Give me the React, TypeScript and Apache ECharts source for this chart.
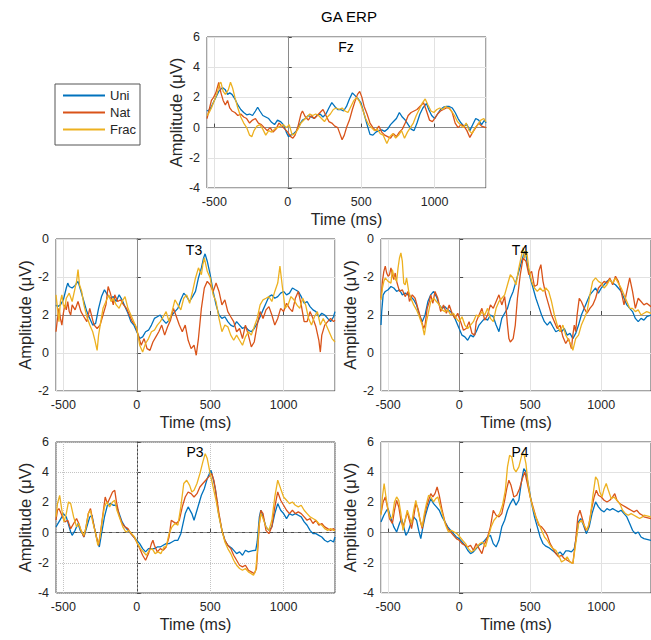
import React, { useEffect, useRef } from "react";
import * as echarts from "echarts";

type Pt = [number, number];

// ---- data -------------------------------------------------------------
const SERIES_NAMES = ["Uni", "Nat", "Frac"];
const SERIES_COLORS = ["#0072BD", "#D95319", "#EDB120"];
const CHANNELS = ["Fz", "T3", "T4", "P3", "P4"];
const TIME_RANGE: [number, number] = [-550, 1350];
const AMP_RANGE: [number, number] = [-4, 6];
const TEMPORAL_RANGE: [number, number] = [-4, 4];
// tick labels printed on the temporal panels, for ticks -4, -2, 0, 2, 4
const TEMPORAL_TICK_LABELS = ["-2", "0", "2", "-2", "0"];

// Fz (µV, time in ms)
const FZ_UNI: Pt[] = [[-550,1.1],[-530,1.2],[-510,1.6],[-490,2.0],[-470,2.4],[-445,2.65],[-425,2.5],[-410,2.2],[-395,2.3],[-380,2.2],[-360,1.9],[-340,1.5],[-320,1.2],[-300,1.0],[-280,0.85],[-260,0.9],[-240,0.8],[-220,1.1],[-205,1.35],[-190,1.1],[-170,0.8],[-150,0.7],[-130,0.6],[-110,0.35],[-90,0.2],[-70,0.5],[-50,0.4],[-30,0.2],[-10,-0.3],[5,-0.6],[20,-0.5],[40,-0.4],[60,-0.2],[80,0.2],[100,0.5],[120,0.6],[140,0.8],[160,0.7],[180,0.6],[200,0.8],[220,0.9],[240,0.7],[260,0.9],[280,1.3],[300,1.65],[320,1.4],[340,1.2],[360,1.2],[380,1.1],[400,1.4],[420,1.9],[440,2.3],[460,2.1],[480,1.9],[500,1.6],[520,0.9],[540,0.2],[560,-0.45],[580,-0.5],[600,-0.3],[620,-0.2],[640,-0.15],[660,-0.25],[680,-0.1],[700,0.2],[720,0.4],[740,0.6],[760,1.0],[780,0.7],[800,0.5],[820,0.2],[840,-0.1],[860,-0.2],[880,0.3],[900,0.9],[920,1.3],[945,1.6],[960,1.2],[980,0.8],[1000,0.6],[1020,0.9],[1040,1.2],[1060,1.35],[1080,1.4],[1100,1.4],[1120,1.3],[1140,1.0],[1160,0.6],[1180,0.3],[1200,0.1],[1220,0.2],[1240,-0.2],[1260,0.2],[1280,0.6],[1300,0.5],[1320,0.2],[1340,0.5],[1350,0.3]];
const FZ_NAT: Pt[] = [[-550,0.6],[-535,1.2],[-520,1.8],[-505,2.0],[-490,2.3],[-470,3.0],[-455,2.3],[-440,1.8],[-425,1.5],[-410,1.8],[-395,1.3],[-380,1.1],[-360,1.0],[-340,0.8],[-320,0.9],[-300,0.7],[-280,0.6],[-260,0.3],[-240,0.5],[-220,0.6],[-200,0.3],[-180,0.2],[-160,0.0],[-140,-0.2],[-120,0.0],[-100,-0.3],[-80,-0.1],[-60,0.3],[-40,0.1],[-20,-0.1],[0,-0.3],[20,-0.6],[35,-0.7],[50,-0.5],[70,0.1],[90,0.9],[100,1.1],[120,0.7],[140,0.5],[160,0.8],[180,0.6],[200,0.8],[220,1.0],[240,1.2],[260,0.8],[280,0.4],[300,0.3],[320,0.1],[340,0.0],[355,-0.4],[370,-0.8],[385,-0.5],[400,0.0],[420,0.5],[440,1.2],[460,1.8],[475,2.2],[490,2.4],[505,2.0],[520,1.4],[540,0.9],[560,0.3],[580,0.0],[600,-0.2],[620,0.1],[640,-0.3],[660,-0.5],[680,-0.6],[700,-0.7],[720,-0.4],[740,-0.6],[760,-0.3],[780,-0.1],[800,0.3],[820,0.8],[840,1.0],[860,1.1],[880,1.2],[900,1.4],[925,1.65],[945,1.1],[965,0.5],[985,0.4],[1000,0.6],[1020,0.9],[1040,1.1],[1060,1.2],[1080,1.3],[1100,1.3],[1120,1.0],[1140,0.3],[1160,0.0],[1180,0.2],[1200,0.1],[1220,-0.2],[1240,-0.65],[1260,-0.3],[1280,0.0],[1300,0.3],[1320,0.1],[1350,0.0]];
const FZ_FRAC: Pt[] = [[-550,0.8],[-535,1.0],[-520,1.3],[-500,1.8],[-480,2.3],[-465,2.9],[-455,3.0],[-440,2.4],[-425,2.2],[-405,2.5],[-390,3.0],[-375,2.6],[-360,2.0],[-340,1.3],[-320,0.7],[-300,0.3],[-280,0.0],[-260,-0.5],[-245,-0.6],[-230,-0.2],[-210,0.1],[-190,0.2],[-170,-0.1],[-150,-0.5],[-130,-0.2],[-110,-0.3],[-90,-0.1],[-70,0.0],[-50,0.1],[-30,0.2],[-10,0.0],[10,0.2],[30,-0.5],[50,-0.4],[70,-0.1],[90,0.3],[110,0.5],[130,0.7],[150,0.9],[170,0.8],[190,0.9],[210,0.8],[230,0.6],[250,0.4],[270,0.7],[290,0.9],[310,1.2],[330,1.3],[350,1.2],[370,1.3],[390,1.1],[410,1.0],[430,1.4],[450,1.8],[470,2.0],[490,1.7],[510,1.2],[530,0.6],[550,0.2],[570,0.0],[590,-0.2],[610,-0.1],[630,-0.4],[650,-0.5],[675,-1.05],[695,-0.6],[715,-0.4],[735,-0.7],[755,-0.5],[775,-0.2],[795,-0.7],[815,-0.3],[835,0.0],[855,0.3],[875,0.8],[895,1.2],[915,1.6],[936,1.9],[955,1.5],[975,1.1],[995,1.0],[1015,1.2],[1035,1.3],[1055,1.2],[1075,1.4],[1095,1.3],[1115,1.1],[1135,0.8],[1155,0.4],[1175,0.2],[1195,0.0],[1215,0.3],[1235,-0.2],[1255,-0.4],[1275,0.0],[1295,0.2],[1315,0.5],[1335,0.6],[1350,0.4]];

// T3 (temporal scale, ticks relabelled)
const T3_UNI: Pt[] = [[-550,0.53],[-540,0.44],[-520,0.53],[-500,0.8],[-480,1.42],[-470,1.68],[-460,1.5],[-440,1.42],[-420,1.56],[-400,1.77],[-380,1.24],[-360,0.71],[-340,0.18],[-320,-0.18],[-300,-0.53],[-280,-0.44],[-260,0.35],[-240,0.97],[-220,1.33],[-200,1.06],[-180,0.88],[-160,0.97],[-140,0.71],[-120,1.06],[-100,0.8],[-80,0.44],[-60,0.09],[-40,-0.35],[-20,-0.53],[0,-0.88],[20,-1.24],[40,-1.15],[60,-0.88],[80,-0.8],[100,-0.53],[120,-0.18],[140,-0.09],[160,0],[180,-0.27],[200,-0.44],[220,-0.27],[240,0],[260,0.18],[280,0.35],[300,0.8],[320,1.15],[340,0.97],[360,0.71],[380,0.97],[400,1.24],[420,1.95],[440,2.48],[455,3.0],[465,3.22],[480,2.83],[500,2.12],[520,1.24],[540,0.53],[560,0],[580,-0.18],[600,-0.09],[620,-0.35],[640,-0.53],[660,-0.62],[680,-0.35],[700,-0.53],[720,-0.71],[740,-0.62],[760,-0.8],[780,-0.88],[800,-0.71],[820,-0.44],[840,-0.09],[860,0.27],[880,0.62],[900,0.97],[920,1.06],[940,0.88],[960,0.97],[980,1.15],[1000,1.24],[1020,1.06],[1040,1.15],[1060,1.42],[1080,1.33],[1100,1.24],[1120,0.97],[1140,0.62],[1160,0.71],[1180,0.44],[1200,0.27],[1220,0.18],[1240,-0.09],[1260,0.09],[1280,0],[1300,-0.18],[1320,-0.35],[1340,-0.09],[1350,0.18]];
const T3_NAT: Pt[] = [[-550,-0.88],[-540,-0.18],[-530,0.35],[-520,-0.18],[-510,-0.53],[-500,0.09],[-490,0.53],[-480,0.27],[-470,0.71],[-460,0.18],[-450,0],[-440,0.53],[-420,0.27],[-400,0.71],[-380,0.18],[-360,-0.09],[-340,-0.35],[-320,0.35],[-300,-0.27],[-290,-0.53],[-270,-0.71],[-250,-0.53],[-230,0],[-210,0.53],[-195,1.5],[-180,1.15],[-160,0.53],[-150,1.06],[-130,0.71],[-110,0.8],[-90,0.53],[-70,0.35],[-50,0],[-30,-0.35],[-10,-0.53],[10,-1.06],[30,-1.59],[50,-1.24],[70,-1.77],[90,-1.86],[110,-1.42],[130,-1.15],[150,-0.88],[170,-0.53],[190,-1.06],[210,-0.62],[230,-0.27],[250,0.35],[270,-0.09],[290,-0.53],[310,-0.88],[330,-0.53],[350,-1.33],[370,-1.77],[390,-1.59],[405,-2.12],[420,-1.24],[440,0.35],[460,1.42],[480,1.77],[500,1.59],[520,1.24],[540,1.68],[560,1.24],[580,0.53],[600,0.8],[620,0.18],[640,-0.09],[660,-0.35],[680,-0.88],[700,-0.71],[720,-1.24],[740,-0.53],[760,-1.06],[780,-1.68],[800,-1.42],[820,-0.53],[840,0.18],[860,-0.18],[880,0.27],[900,0.44],[920,0],[940,-0.53],[960,-0.18],[980,0.35],[1000,0.18],[1020,0.62],[1040,0.35],[1060,0.18],[1080,0.88],[1100,1.24],[1120,0.53],[1140,-0.35],[1160,-0.35],[1180,0.18],[1200,-0.18],[1220,-0.62],[1240,-1.33],[1250,-1.95],[1260,-1.06],[1280,-0.53],[1300,-0.35],[1320,-0.18],[1340,-0.35],[1350,-0.27]];
const T3_FRAC: Pt[] = [[-550,1.06],[-540,0.35],[-530,-0.35],[-520,0.71],[-510,1.06],[-500,0.53],[-490,0.35],[-480,0.88],[-460,1.15],[-440,0.71],[-420,1.42],[-410,1.77],[-400,2.39],[-390,1.59],[-375,1.24],[-360,0.53],[-340,-0.09],[-320,-0.53],[-300,-0.88],[-285,-1.33],[-270,-1.86],[-260,-1.06],[-245,-0.35],[-230,0.35],[-210,0.71],[-190,1.06],[-175,0.71],[-160,0.88],[-140,0.53],[-120,0.35],[-100,0.71],[-80,0.97],[-60,0.35],[-40,0],[-20,-0.35],[0,-0.71],[20,-1.59],[40,-1.95],[60,-1.5],[80,-1.24],[100,-0.88],[120,-0.8],[140,-0.53],[160,-0.35],[180,-0.09],[200,0.18],[220,-0.35],[240,0.18],[260,0.8],[280,0.53],[300,0.27],[320,0.88],[340,1.06],[360,0.62],[380,1.24],[400,1.95],[420,2.48],[440,2.12],[450,2.65],[460,3.0],[470,2.65],[480,2.3],[500,1.95],[520,1.06],[540,0.71],[560,-0.18],[580,-0.88],[600,-0.53],[620,-0.62],[640,-1.06],[660,-1.33],[680,-1.06],[700,-1.33],[720,-1.59],[740,-1.15],[760,-0.88],[780,-1.06],[800,-0.62],[820,-0.18],[840,0.53],[860,0.8],[880,0.88],[900,0.97],[920,0.71],[940,1.24],[960,1.68],[975,2.57],[990,1.59],[1010,0.35],[1030,0.53],[1050,0.97],[1070,0.8],[1090,0.53],[1110,0.35],[1130,0.88],[1150,0.53],[1170,-0.18],[1190,-0.53],[1210,-0.09],[1230,0.18],[1250,-0.53],[1270,-0.18],[1290,-0.53],[1310,-0.88],[1330,-1.24],[1350,-1.42]];

// T4 (temporal scale, ticks relabelled)
const T4_UNI: Pt[] = [[-550,-0.53],[-545,0.18],[-535,1.06],[-520,1.24],[-500,1.33],[-480,1.5],[-460,1.42],[-440,1.24],[-420,1.33],[-400,1.06],[-380,1.15],[-360,1.06],[-340,0.97],[-320,0.8],[-300,0.53],[-280,0],[-260,-0.35],[-240,0],[-220,0.71],[-200,1.06],[-180,1.24],[-160,0.97],[-140,0.53],[-120,0.35],[-100,0.44],[-80,0.27],[-60,0.18],[-40,0],[-20,-0.35],[0,-0.71],[20,-1.06],[40,-1.15],[60,-1.33],[80,-1.06],[100,-1.15],[120,-0.88],[140,-0.53],[160,-0.35],[180,-0.18],[200,-0.27],[220,0],[240,-0.09],[260,-0.53],[280,-0.88],[300,-0.18],[320,0.09],[340,0.35],[360,0.88],[380,1.24],[400,1.77],[420,2.3],[440,2.83],[460,3.36],[470,3.19],[480,2.65],[500,1.95],[520,1.42],[540,0.88],[560,0.44],[580,0],[600,-0.35],[620,-0.53],[640,-0.35],[660,-0.62],[680,-0.88],[700,-0.8],[720,-0.88],[740,-0.71],[760,-1.06],[780,-0.97],[800,-1.24],[820,-0.97],[840,-0.53],[860,0],[880,0.35],[900,0.71],[920,1.06],[940,1.24],[960,1.42],[980,1.15],[1000,1.42],[1020,1.59],[1040,1.77],[1060,1.86],[1080,1.68],[1100,1.59],[1120,1.42],[1140,1.24],[1160,0.88],[1180,0.53],[1200,0.35],[1220,0.18],[1240,-0.18],[1260,-0.35],[1280,-0.18],[1300,-0.27],[1320,-0.09],[1350,0]];
const T4_NAT: Pt[] = [[-550,0.88],[-540,1.77],[-530,2.3],[-520,2.57],[-510,2.21],[-500,2.04],[-490,2.12],[-480,2.48],[-470,2.12],[-460,1.86],[-450,2.21],[-440,1.77],[-420,1.24],[-400,1.33],[-380,0.97],[-360,1.24],[-350,0.71],[-330,1.06],[-310,0.88],[-290,0.35],[-270,-0.18],[-250,-0.71],[-240,-0.53],[-225,0.35],[-210,0.71],[-200,1.06],[-185,0.62],[-170,1.24],[-150,0.88],[-130,0.18],[-110,0.53],[-90,0.09],[-70,0.53],[-50,0.09],[-30,-0.18],[-10,0.09],[10,-0.35],[30,-0.8],[50,-0.71],[70,-0.35],[90,-0.97],[110,-1.06],[120,-0.35],[140,0],[160,0.35],[180,-0.27],[200,0],[220,0.53],[240,0.35],[260,0.71],[280,1.06],[300,0.53],[320,0.97],[330,0.35],[340,-0.53],[350,-1.24],[360,-1.42],[380,-1.24],[395,-0.53],[410,0.88],[430,2.12],[450,3.0],[470,2.83],[490,2.12],[510,2.3],[530,1.5],[550,1.59],[560,2.3],[575,2.65],[590,1.77],[610,1.06],[630,0.53],[650,0],[670,-0.35],[690,-0.71],[710,-0.53],[730,-1.15],[750,-1.5],[770,-1.24],[790,-1.77],[800,-1.06],[810,-0.53],[820,-0.88],[830,0],[845,0.88],[860,0.71],[880,0.35],[900,0.09],[920,0.35],[940,0.53],[960,0.88],[980,1.42],[1000,1.59],[1020,1.77],[1040,1.68],[1060,1.95],[1080,1.59],[1100,2.04],[1120,1.77],[1140,1.24],[1160,0.53],[1180,1.24],[1200,1.95],[1220,1.24],[1240,0.35],[1260,0.88],[1280,0.71],[1300,0.53],[1320,0.62],[1350,0.44]];
const T4_FRAC: Pt[] = [[-550,0.8],[-540,1.42],[-530,1.77],[-520,1.95],[-500,1.77],[-480,1.68],[-470,2.39],[-460,2.04],[-440,1.77],[-430,2.48],[-420,3.0],[-410,3.27],[-400,2.83],[-390,1.68],[-380,1.59],[-370,1.95],[-355,1.24],[-340,0.88],[-320,0.53],[-300,0.27],[-280,-0.09],[-260,-0.53],[-245,-1.06],[-230,-0.35],[-215,0.18],[-200,0.71],[-180,0.88],[-160,0.71],[-140,0.53],[-120,0.27],[-100,0.18],[-80,0.27],[-60,0],[-40,0.09],[-20,-0.18],[0,-0.35],[20,-0.09],[40,-0.53],[60,-0.71],[80,-0.53],[100,-0.35],[120,0],[140,-0.09],[160,0.18],[180,0],[200,0.35],[220,-0.18],[240,-0.35],[260,0.35],[280,0.71],[300,0.88],[320,1.06],[340,1.59],[360,2.12],[380,1.95],[400,1.59],[420,2.48],[440,3.19],[450,3.54],[460,3.0],[475,3.36],[490,2.48],[510,1.77],[530,1.42],[550,1.24],[570,1.42],[590,1.24],[610,1.42],[630,1.24],[650,0.71],[670,0],[690,-0.53],[710,-0.88],[730,-0.53],[750,-1.06],[770,-1.33],[790,-1.59],[800,-1.86],[820,-1.24],[840,-1.06],[860,-0.53],[880,-0.18],[900,0.18],[920,1.06],[940,1.77],[960,1.95],[980,1.77],[1000,1.68],[1020,1.42],[1040,1.59],[1060,1.86],[1080,1.68],[1100,1.95],[1120,1.68],[1140,1.42],[1160,1.06],[1180,0.71],[1200,0.35],[1220,0.35],[1240,0.18],[1260,0.27],[1280,0],[1300,0.09],[1320,0.18],[1350,0.09]];

// P3 (µV)
const P3_UNI: Pt[] = [[-550,0.38],[-530,0.71],[-510,1.04],[-500,1.26],[-480,1.04],[-470,0.71],[-450,0.04],[-440,-0.18],[-420,0.15],[-400,0.6],[-385,0.15],[-370,-0.07],[-360,-0.29],[-340,0.38],[-320,1.04],[-305,1.15],[-290,0.38],[-270,-0.51],[-255,-0.95],[-240,-0.07],[-220,1.04],[-200,1.81],[-180,1.92],[-160,1.81],[-140,1.81],[-120,1.26],[-100,0.71],[-80,0.38],[-60,0.15],[-40,-0.07],[-20,-0.29],[0,-0.51],[20,-0.73],[40,-1.06],[60,-1.28],[80,-1.06],[100,-1.06],[120,-1.06],[140,-0.95],[160,-0.95],[180,-0.84],[200,-0.73],[220,-0.73],[240,-0.62],[260,-0.51],[280,-0.51],[300,-0.07],[330,1.26],[350,1.7],[375,1.26],[390,0.82],[410,1.48],[440,2.47],[460,2.91],[480,3.58],[505,4.13],[520,3.58],[535,2.91],[555,1.37],[580,0.15],[600,-0.51],[620,-0.84],[650,-1.06],[680,-1.39],[700,-1.28],[720,-1.5],[740,-1.17],[760,-1.28],[790,-1.2],[810,-1.17],[820,-0.62],[835,1.04],[845,1.48],[860,1.04],[880,0.38],[900,0.15],[920,0.38],[940,1.26],[960,1.92],[980,1.48],[1000,1.26],[1020,0.93],[1040,1.26],[1060,1.15],[1080,1.26],[1100,1.15],[1120,1.04],[1140,0.71],[1160,0.49],[1180,0.15],[1200,-0.07],[1220,-0.07],[1240,-0.18],[1260,-0.29],[1280,-0.51],[1300,-0.62],[1320,-0.51],[1340,-0.62],[1350,-0.29]];
const P3_NAT: Pt[] = [[-550,0.82],[-540,1.48],[-530,1.59],[-510,1.15],[-490,0.71],[-470,0.82],[-450,0.26],[-430,0.6],[-410,0.93],[-395,0.6],[-380,0.15],[-360,-0.29],[-350,0.15],[-330,1.26],[-315,1.59],[-300,0.82],[-280,-0.07],[-260,-0.84],[-245,0.15],[-230,1.26],[-215,2.36],[-200,1.92],[-180,2.36],[-165,2.69],[-150,2.8],[-140,2.14],[-120,1.15],[-100,0.6],[-80,0.38],[-60,0.26],[-40,-0.07],[-20,-0.29],[0,-0.62],[20,-1.06],[40,-1.5],[60,-1.83],[80,-1.39],[100,-0.73],[110,-0.51],[120,-0.84],[140,-1.28],[160,-1.06],[180,-1.17],[200,-0.95],[220,-0.29],[235,0.82],[250,0.71],[270,0.6],[290,0.82],[310,1.7],[330,2.36],[350,2.69],[370,2.58],[390,2.36],[410,2.58],[430,3.02],[450,3.25],[470,3.47],[490,3.69],[510,3.91],[525,3.47],[540,2.58],[560,1.26],[580,0.15],[600,-0.51],[620,-0.84],[640,-1.06],[660,-1.5],[680,-1.83],[700,-2.16],[720,-2.27],[740,-2.16],[760,-2.49],[780,-2.6],[800,-2.72],[815,-2.38],[825,-0.95],[835,0.6],[845,1.48],[860,1.26],[880,0.15],[900,-0.07],[920,0.38],[940,1.7],[960,2.69],[980,2.14],[1000,1.81],[1020,1.48],[1040,1.26],[1060,1.48],[1080,1.26],[1100,1.37],[1120,1.26],[1140,1.04],[1160,0.82],[1180,0.93],[1200,0.6],[1220,0.82],[1240,0.49],[1260,0.6],[1280,0.38],[1300,0.26],[1320,0.15],[1340,0.26],[1350,0.15]];
const P3_FRAC: Pt[] = [[-550,1.04],[-540,1.92],[-525,2.47],[-510,1.48],[-495,0.71],[-480,1.26],[-465,2.03],[-450,1.92],[-430,1.04],[-410,0.38],[-395,0.6],[-380,0.15],[-360,-0.18],[-345,0.38],[-330,1.26],[-315,1.48],[-300,0.71],[-280,-0.07],[-265,-0.84],[-250,-0.29],[-235,0.82],[-220,1.7],[-205,2.03],[-185,1.7],[-165,2.03],[-150,2.14],[-135,1.48],[-115,0.93],[-95,0.38],[-75,0.04],[-55,0.15],[-35,-0.07],[-15,-0.29],[5,-0.73],[25,-1.06],[45,-1.28],[65,-1.5],[85,-1.17],[105,-1.06],[125,-1.39],[145,-1.28],[165,-1.39],[185,-0.95],[200,-0.95],[220,-0.07],[240,0.38],[260,0.6],[280,0.49],[300,1.7],[320,3.25],[340,3.47],[360,3.13],[375,2.69],[390,2.8],[410,3.25],[430,3.91],[450,4.68],[466,5.23],[480,4.9],[500,3.91],[520,3.02],[540,2.14],[560,1.04],[580,0.15],[600,-0.62],[620,-1.06],[640,-1.39],[660,-1.83],[680,-2.16],[700,-2.38],[720,-2.49],[740,-2.38],[760,-2.6],[780,-2.72],[795,-2.83],[810,-2.49],[822,-1.17],[832,0.38],[845,1.26],[860,0.93],[880,0.38],[900,0.15],[920,0.82],[940,2.36],[960,3.47],[980,2.91],[1000,2.36],[1020,2.14],[1040,1.92],[1060,2.03],[1080,1.81],[1100,1.7],[1120,1.81],[1140,1.48],[1160,1.26],[1180,1.04],[1200,0.93],[1220,0.82],[1240,0.6],[1260,0.49],[1280,0.26],[1300,0.15],[1320,0.26],[1340,0.15],[1350,0.15]];

// P4 (µV)
const P4_UNI: Pt[] = [[-550,0.71],[-530,1.15],[-510,1.48],[-500,1.59],[-480,0.93],[-460,0.38],[-440,0.04],[-420,0.6],[-405,0.93],[-390,0.38],[-375,-0.18],[-360,0.04],[-340,0.6],[-320,1.04],[-300,0.82],[-285,0.15],[-270,-0.4],[-255,0.38],[-240,1.04],[-220,1.7],[-200,2.25],[-180,1.92],[-160,1.7],[-140,1.48],[-120,1.04],[-100,0.71],[-80,0.38],[-60,0.15],[-40,-0.07],[-20,-0.29],[0,-0.4],[20,-0.62],[40,-0.84],[60,-1.17],[80,-1.39],[100,-1.28],[120,-1.06],[140,-0.84],[160,-0.73],[180,-0.51],[200,-0.29],[220,-0.18],[240,-0.73],[260,-0.95],[280,-0.51],[300,0.38],[320,0.82],[340,1.48],[360,1.92],[380,2.25],[400,1.81],[420,2.14],[440,3.47],[455,4.24],[470,4.02],[490,3.02],[510,1.92],[530,1.04],[550,0.38],[570,-0.29],[590,-0.73],[610,-0.9],[630,-0.99],[650,-1.13],[670,-1.28],[690,-1.43],[710,-1.28],[730,-1.5],[750,-1.21],[770,-1.21],[790,-1.28],[810,-1.06],[825,-0.29],[840,0.71],[855,0.93],[875,0.49],[895,-0.07],[915,0.38],[935,1.26],[960,2.03],[980,1.7],[1000,1.48],[1020,1.37],[1040,1.59],[1060,1.48],[1080,1.59],[1100,1.48],[1120,1.37],[1140,1.48],[1160,1.26],[1180,1.04],[1200,0.6],[1220,0.15],[1240,-0.07],[1260,0.04],[1280,-0.29],[1300,-0.4],[1350,-0.51]];
const P4_NAT: Pt[] = [[-550,1.26],[-535,2.03],[-520,2.36],[-505,1.7],[-490,0.93],[-470,0.6],[-455,1.48],[-440,2.14],[-425,1.7],[-410,0.82],[-395,0.38],[-380,0.82],[-365,1.37],[-350,0.82],[-335,0.26],[-320,1.04],[-305,1.92],[-290,1.59],[-275,0.82],[-260,0.26],[-245,1.04],[-230,1.7],[-215,2.14],[-200,2.58],[-185,2.36],[-170,2.58],[-155,3.02],[-140,2.47],[-120,1.48],[-100,0.71],[-80,0.26],[-60,0.04],[-40,-0.18],[-20,-0.4],[0,-0.51],[20,-0.73],[40,-0.84],[60,-0.95],[80,-0.84],[100,-1.17],[120,-0.73],[140,-1.06],[160,-1.39],[180,-0.73],[200,-0.29],[220,0.38],[240,1.48],[260,1.15],[280,1.04],[300,1.26],[320,2.14],[335,2.91],[350,3.47],[365,3.13],[385,2.36],[405,2.47],[425,2.91],[445,3.58],[462,4.02],[480,3.25],[500,2.36],[520,1.7],[540,1.04],[560,0.49],[580,0.38],[600,0.15],[620,-0.18],[640,-0.73],[660,-1.06],[680,-1.39],[700,-1.61],[720,-1.5],[740,-1.72],[760,-1.83],[780,-1.94],[800,-2.05],[820,-0.51],[835,1.04],[850,1.48],[870,0.82],[890,0.15],[910,0.38],[930,1.48],[950,2.36],[965,2.8],[980,2.47],[1000,2.36],[1020,2.14],[1040,2.03],[1060,2.14],[1080,2.36],[1095,2.58],[1110,2.14],[1130,1.92],[1150,1.81],[1170,1.7],[1190,1.59],[1210,1.48],[1230,1.37],[1250,1.48],[1270,1.26],[1290,1.15],[1300,1.04],[1350,0.93]];
const P4_FRAC: Pt[] = [[-550,1.15],[-540,2.36],[-528,3.25],[-515,2.36],[-500,1.48],[-485,0.93],[-470,1.04],[-455,2.03],[-440,2.36],[-425,2.14],[-410,1.26],[-395,0.15],[-380,0.82],[-365,1.48],[-350,1.04],[-335,0.6],[-320,1.48],[-305,2.14],[-290,1.48],[-275,0.82],[-260,0.38],[-245,1.26],[-230,1.92],[-215,2.47],[-200,2.36],[-180,2.03],[-165,2.25],[-150,2.36],[-135,1.81],[-115,1.15],[-95,0.49],[-75,0.04],[-55,0.15],[-35,0.04],[-15,-0.07],[5,-0.29],[25,-0.51],[45,-0.73],[65,-1.06],[85,-1.28],[105,-1.17],[125,-0.95],[145,-0.73],[165,-0.62],[185,-0.95],[205,-0.29],[225,0.38],[245,0.82],[265,1.04],[285,1.26],[305,1.81],[325,2.8],[340,4.35],[355,5.12],[370,5.01],[385,4.24],[400,4.02],[420,4.35],[440,5.12],[455,5.23],[470,4.57],[485,3.25],[500,2.36],[520,1.59],[540,1.04],[560,0.6],[580,0.15],[600,-0.29],[620,-0.51],[640,-0.84],[660,-1.06],[680,-1.17],[700,-1.5],[720,-1.94],[740,-1.83],[760,-1.61],[780,-1.94],[800,-2.05],[820,-0.73],[840,0.6],[860,0.82],[880,0.49],[900,0.15],[920,0.82],[940,2.36],[960,3.69],[975,3.47],[990,2.69],[1005,2.36],[1020,2.91],[1035,3.25],[1050,2.8],[1070,2.25],[1090,2.36],[1110,2.14],[1130,1.92],[1150,1.48],[1170,1.26],[1190,1.15],[1210,1.26],[1230,1.15],[1250,1.04],[1270,0.93],[1290,1.04],[1300,1.15],[1350,1.04]];

const PANEL_DATA: Pt[][][] = [
  [FZ_UNI, FZ_NAT, FZ_FRAC],
  [T3_UNI, T3_NAT, T3_FRAC],
  [T4_UNI, T4_NAT, T4_FRAC],
  [P3_UNI, P3_NAT, P3_FRAC],
  [P4_UNI, P4_NAT, P4_FRAC],
];

// ---- layout -----------------------------------------------------------
const FONT = "'Liberation Sans', Arial, Helvetica, sans-serif";
const INK = "#262626";
const BOX = "#4a4a4a";

const GRIDS = [
  { left: 207, top: 37, width: 279, height: 151 },
  { left: 56, top: 239, width: 279, height: 152 },
  { left: 381, top: 239, width: 279, height: 152 },
  { left: 56, top: 442, width: 279, height: 151 },
  { left: 381, top: 442, width: 279, height: 151 },
];
const LABEL_POS = [
  { x: 346, y: 40 },
  { x: 194, y: 243 },
  { x: 520, y: 243 },
  { x: 195, y: 445 },
  { x: 520, y: 445 },
];

function buildOption(): echarts.EChartsCoreOption {
  const xAxis: any[] = [];
  const yAxis: any[] = [];
  const series: any[] = [];

  CHANNELS.forEach((ch, i) => {
    const temporal = ch === "T3" || ch === "T4";
    const dotted = ch === "P3";
    const splitLine = {
      show: true,
      lineStyle: { color: dotted ? "#c4c4c4" : "#e2e2e2", type: dotted ? "dotted" : "solid" },
    };
    xAxis.push({
      type: "value",
      gridIndex: i,
      min: TIME_RANGE[0],
      max: TIME_RANGE[1],
      minInterval: 500,
      maxInterval: 500,
      name: "Time (ms)",
      nameLocation: "middle",
      nameGap: 23,
      nameTextStyle: { fontFamily: FONT, fontSize: 16, color: INK },
      axisLine: { show: true, lineStyle: { color: BOX, width: 1 } },
      axisTick: { show: true, inside: true, length: 4, lineStyle: { color: BOX } },
      axisLabel: {
        fontFamily: FONT, fontSize: 12.5, color: INK, margin: 7,
        showMinLabel: false, showMaxLabel: false,
        formatter: (v: number) => String(v),
      },
      splitLine,
    });
    yAxis.push({
      type: "value",
      gridIndex: i,
      min: temporal ? TEMPORAL_RANGE[0] : AMP_RANGE[0],
      max: temporal ? TEMPORAL_RANGE[1] : AMP_RANGE[1],
      interval: 2,
      name: "Amplitude (μV)",
      nameLocation: "middle",
      nameGap: 22,
      nameTextStyle: { fontFamily: FONT, fontSize: 16.5, color: INK },
      axisLine: { show: true, lineStyle: { color: BOX, width: 1 } },
      axisTick: { show: true, inside: true, length: 4, lineStyle: { color: BOX } },
      axisLabel: {
        fontFamily: FONT, fontSize: 12.5, color: INK, margin: 7,
        formatter: temporal
          ? (v: number) => TEMPORAL_TICK_LABELS[Math.round((v - TEMPORAL_RANGE[0]) / 2)] ?? ""
          : (v: number) => String(v),
      },
      splitLine,
    });

    PANEL_DATA[i].forEach((data, k) => {
      const s: any = {
        type: "line",
        name: SERIES_NAMES[k],
        xAxisIndex: i,
        yAxisIndex: i,
        data,
        showSymbol: false,
        symbol: "none",
        smooth: false,
        color: SERIES_COLORS[k],
        lineStyle: { width: 1.3, color: SERIES_COLORS[k] },
        z: 3 + k,
      };
      if (k === 0) {
        // zero reference lines (stimulus onset and baseline)
        s.markLine = {
          silent: true,
          symbol: ["none", "none"],
          label: { show: false },
          z: 2,
          data: [
            { xAxis: 0, lineStyle: { color: dotted ? "#9a9a9a" : "#8a8a8a", width: 1, type: dotted ? [2, 2] : "solid" } },
            { yAxis: 0, lineStyle: { color: "#8a8a8a", width: 1, type: dotted ? [4, 3] : "solid" } },
          ],
        };
      }
      series.push(s);
    });
  });

  return {
    animation: false,
    backgroundColor: "#ffffff",
    title: {
      text: "GA ERP",
      left: 344,
      top: 4,
      textAlign: "center",
      textStyle: { fontFamily: FONT, fontSize: 15, fontWeight: "normal", color: "#000" },
    },
    legend: {
      data: SERIES_NAMES,
      orient: "vertical",
      left: 55,
      top: 84,
      padding: [5, 4, 9, 8],
      itemGap: 4,
      itemWidth: 42,
      itemHeight: 2,
      icon: "rect",
      borderColor: "#555",
      borderWidth: 1,
      backgroundColor: "#fff",
      textStyle: { fontFamily: FONT, fontSize: 13, color: INK },
    },
    grid: GRIDS.map((g) => ({
      ...g,
      show: true,
      borderColor: BOX,
      borderWidth: 1,
      backgroundColor: "#fff",
      containLabel: false,
    })),
    xAxis,
    yAxis,
    series,
    graphic: CHANNELS.map((ch, i) => ({
      type: "text",
      x: LABEL_POS[i].x,
      y: LABEL_POS[i].y,
      z: 10,
      style: {
        text: ch,
        fontFamily: FONT,
        fontSize: 14,
        fill: "#000",
        textAlign: "center",
        textVerticalAlign: "top",
      },
    })),
  };
}

export default function App() {
  const ref = useRef<HTMLDivElement>(null);
  useEffect(() => {
    if (!ref.current) return;
    const chart = echarts.init(ref.current, undefined, { renderer: "svg" });
    chart.setOption(buildOption());
    return () => chart.dispose();
  }, []);
  return (
    <div
      ref={ref}
      style={{ position: "absolute", left: 0, top: 0, width: 651, height: 640, background: "#fff" }}
    />
  );
}
